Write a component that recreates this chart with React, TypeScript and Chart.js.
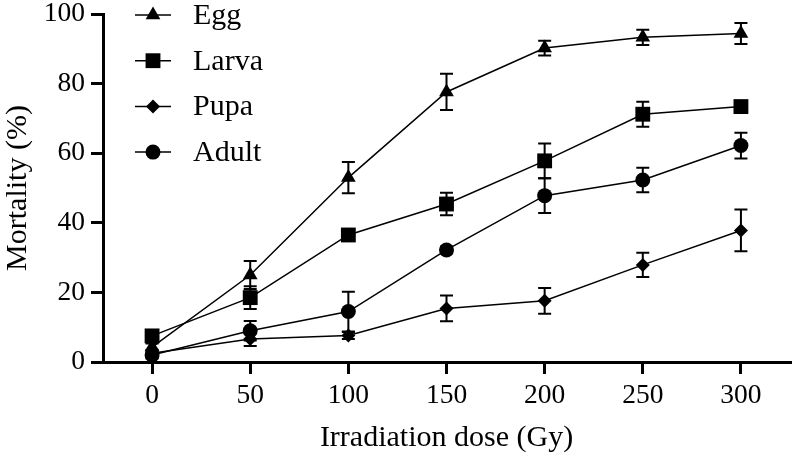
import { useEffect, useRef } from 'react';
import { Chart, registerables } from 'chart.js';
import { drawPoint } from 'chart.js/helpers';

Chart.register(...registerables);

const doses = [0, 50, 100, 150, 200, 250, 300];
const xTicks = [0, 50, 100, 150, 200, 250, 300];
const seriesLabels = ['Egg', 'Larva', 'Pupa', 'Adult'];
const eggMean = [4.3, 25, 53, 77.6, 90.2, 93.3, 94.4];
const eggErr = [1, 4, 4.5, 5.2, 2.1, 2.2, 3];
const larvaMean = [7.5, 18.5, 36.5, 45.4, 57.8, 71.2, 73.4];
const larvaErr = [1, 3.3, 1, 3.2, 5, 3.6, 1];
const pupaMean = [2.5, 6.6, 7.6, 15.4, 17.6, 27.9, 37.8];
const pupaErr = [1, 2, 1, 3.7, 3.7, 3.5, 6];
const adultMean = [2, 9, 14.5, 32.2, 47.8, 52.3, 62.2];
const adultErr = [1, 2.8, 5.7, 1, 5, 3.5, 3.7];

const means = [eggMean, larvaMean, pupaMean, adultMean];
const errs = [eggErr, larvaErr, pupaErr, adultErr];
const pointStyles = ['triangle', 'rect', 'rectRot', 'circle'];
const pointRadii = [8.5, 10.5, 7, 7.5];

const FONT = "'Liberation Serif', 'Times New Roman', serif";

const errorBarPlugin = {
  id: 'errorBars',
  beforeDatasetsDraw(chart: any) {
    const { ctx, scales } = chart;
    const xs = scales.x;
    const ys = scales.y;
    ctx.save();
    ctx.strokeStyle = '#000';
    ctx.lineWidth = 2;
    means.forEach((m, di) => {
      m.forEach((v, i) => {
        const e = errs[di][i];
        const px = xs.getPixelForValue(doses[i]);
        const top = ys.getPixelForValue(v + e);
        const bot = ys.getPixelForValue(v - e);
        ctx.beginPath();
        ctx.moveTo(px, top);
        ctx.lineTo(px, bot);
        ctx.moveTo(px - 6.5, top);
        ctx.lineTo(px + 6.5, top);
        ctx.moveTo(px - 6.5, bot);
        ctx.lineTo(px + 6.5, bot);
        ctx.stroke();
      });
    });
    ctx.restore();
  },
};

const legendPlugin = {
  id: 'customLegend',
  afterDraw(chart: any) {
    const { ctx, chartArea } = chart;
    ctx.save();
    chart.data.datasets.forEach((ds: any, i: number) => {
      const y = chartArea.top + 1 + i * 45.7;
      ctx.strokeStyle = '#000';
      ctx.lineWidth = 1.5;
      ctx.beginPath();
      ctx.moveTo(135, y);
      ctx.lineTo(171, y);
      ctx.stroke();
      ctx.fillStyle = '#000';
      drawPoint(ctx, { pointStyle: ds.pointStyle, radius: ds.pointRadius, borderWidth: 0, rotation: 0 } as any, 153, y);
      ctx.font = `30px ${FONT}`;
      ctx.textBaseline = 'middle';
      ctx.textAlign = 'left';
      ctx.fillText(ds.label, 193, y + 1);
    });
    ctx.restore();
  },
};

export default function App() {
  const ref = useRef<HTMLCanvasElement>(null);
  useEffect(() => {
    document.body.style.margin = '0';
    const datasets = seriesLabels.map((label, di) => ({
      label,
      data: doses.map((d, i) => ({ x: d, y: means[di][i] })),
      borderColor: '#000',
      backgroundColor: '#000',
      borderWidth: 1.5,
      pointStyle: pointStyles[di],
      pointRadius: pointRadii[di],
      pointBorderWidth: 0,
      pointBackgroundColor: '#000',
      tension: 0,
      clip: false,
    }));
    const chart = new Chart(ref.current as HTMLCanvasElement, {
      type: 'line',
      data: { datasets } as any,
      plugins: [errorBarPlugin, legendPlugin],
      options: {
        animation: false,
        responsive: true,
        maintainAspectRatio: false,
        layout: { autoPadding: false, padding: { top: 14, right: 6, left: 0, bottom: 0 } },
        plugins: { legend: { display: false }, tooltip: { enabled: false } },
        scales: {
          x: {
            type: 'linear',
            min: -25,
            max: 325,
            afterBuildTicks: (s: any) => {
              s.ticks = xTicks.map((v) => ({ value: v }));
            },
            afterFit: (s: any) => {
              s.height = 98;
              s.paddingLeft = 0;
              s.paddingRight = 0;
            },
            grid: { drawOnChartArea: false, drawTicks: true, tickLength: 12, color: '#000', lineWidth: 3 },
            border: { display: true, color: '#000', width: 3 },
            ticks: { color: '#000', font: { family: FONT, size: 27.5 }, padding: 5, maxRotation: 0 },
            title: {
              display: true,
              text: 'Irradiation dose (Gy)',
              color: '#000',
              font: { family: FONT, size: 30 },
              padding: { top: 0, bottom: 4 },
            },
          },
          y: {
            type: 'linear',
            min: 0,
            max: 100,
            afterFit: (s: any) => {
              s.width = 103;
              s.paddingTop = 0;
              s.paddingBottom = 0;
            },
            grid: { drawOnChartArea: false, drawTicks: true, tickLength: 12, color: '#000', lineWidth: 3 },
            border: { display: true, color: '#000', width: 3 },
            ticks: { color: '#000', font: { family: FONT, size: 27.5 }, padding: 6, stepSize: 20 },
            title: {
              display: true,
              text: 'Mortality (%)',
              color: '#000',
              font: { family: FONT, size: 30 },
              padding: { top: 0, bottom: 0 },
            },
          },
        },
      },
    });
    return () => chart.destroy();
  }, []);
  return (
    <div style={{ width: 796, height: 460, position: 'relative' }}>
      <canvas ref={ref} />
    </div>
  );
}
